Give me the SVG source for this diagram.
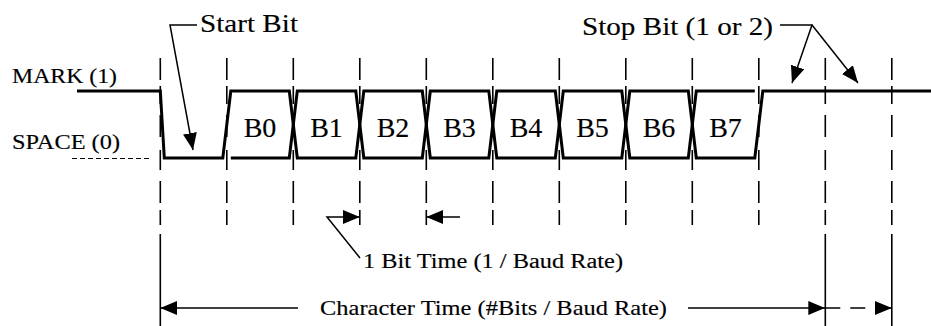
<svg xmlns="http://www.w3.org/2000/svg" width="931" height="326" viewBox="0 0 931 326">
<style>
text{font-family:"Liberation Serif","Times New Roman",serif;fill:#000;stroke:#000;stroke-width:0.15}
.sig{fill:none;stroke:#000;stroke-width:3;stroke-linejoin:miter}
.grid{stroke:#000;stroke-width:1.6;stroke-dasharray:22 6 18 11 22 13 20 11 22 7 15}
.solid{stroke:#000;stroke-width:1.6}
.ln{fill:none;stroke:#000;stroke-width:1.5}
.bit{font-size:28px;text-anchor:middle}
</style>
<defs>
<marker id="ah" markerUnits="userSpaceOnUse" markerWidth="17" markerHeight="14" refX="17" refY="7" orient="auto">
<path d="M0,0 L17,7 L0,14 z" fill="#000"/>
</marker>
</defs>
<rect width="931" height="326" fill="#fff"/>
<g id="grid">
<line class="grid" x1="160.3" y1="58" x2="160.3" y2="225"/>
<line class="grid" x1="226.8" y1="58" x2="226.8" y2="225"/>
<line class="grid" x1="293.3" y1="58" x2="293.3" y2="225"/>
<line class="grid" x1="359.8" y1="58" x2="359.8" y2="225"/>
<line class="grid" x1="426.3" y1="58" x2="426.3" y2="225"/>
<line class="grid" x1="492.8" y1="58" x2="492.8" y2="225"/>
<line class="grid" x1="559.3" y1="58" x2="559.3" y2="225"/>
<line class="grid" x1="625.8" y1="58" x2="625.8" y2="225"/>
<line class="grid" x1="692.3" y1="58" x2="692.3" y2="225"/>
<line class="grid" x1="758.8" y1="58" x2="758.8" y2="225"/>
<line class="grid" x1="825.3" y1="58" x2="825.3" y2="225"/>
<line class="grid" x1="891.8" y1="58" x2="891.8" y2="225"/>
<line class="solid" x1="160.3" y1="234" x2="160.3" y2="326"/>
<line class="solid" x1="825.3" y1="234" x2="825.3" y2="326"/>
<line class="solid" x1="891.8" y1="234" x2="891.8" y2="326"/>
<line x1="72" y1="158.5" x2="150" y2="158.5" stroke="#000" stroke-width="1" stroke-dasharray="5 3"/>
</g>
<g id="signal">
<path class="sig" d="M77,91 H160.3 L164.3,158 H222.8 L230.8,91 H289.3 L297.3,158 H355.8 L363.8,91 H422.3 L430.3,158 H488.8 L496.8,91 H555.3 L563.3,158 H621.8 L629.8,91 H688.3 L696.3,158 H754.8 L762.8,91 H931"/>
<path class="sig" d="M230.8,158 H289.3 L297.3,91 H355.8 L363.8,158 H422.3 L430.3,91 H488.8 L496.8,158 H555.3 L563.3,91 H621.8 L629.8,158 H688.3 L696.3,91 H754.8"/>
</g>
<g id="labels">
<text x="12" y="83" font-size="20" textLength="105" lengthAdjust="spacingAndGlyphs">MARK (1)</text>
<text x="12" y="149" font-size="20" textLength="108" lengthAdjust="spacingAndGlyphs">SPACE (0)</text>
<text x="200" y="32" font-size="25" textLength="98" lengthAdjust="spacingAndGlyphs">Start Bit</text>
<text x="582" y="35" font-size="25" textLength="191" lengthAdjust="spacingAndGlyphs">Stop Bit (1 or 2)</text>
<text x="363" y="268" font-size="20" textLength="260" lengthAdjust="spacingAndGlyphs">1 Bit Time (1 / Baud Rate)</text>
<text x="320" y="315" font-size="22" textLength="347" lengthAdjust="spacingAndGlyphs">Character Time (#Bits / Baud Rate)</text>
</g>
<g id="bits">
<text id="b0" class="bit" x="260" y="137">B0</text>
<text id="b1" class="bit" x="326.5" y="137">B1</text>
<text id="b2" class="bit" x="393" y="137">B2</text>
<text id="b3" class="bit" x="459.5" y="137">B3</text>
<text id="b4" class="bit" x="526" y="137">B4</text>
<text id="b5" class="bit" x="592.5" y="137">B5</text>
<text id="b6" class="bit" x="659" y="137">B6</text>
<text id="b7" class="bit" x="725.5" y="137">B7</text>
</g>
<g id="connectors">
<polyline class="ln" points="197,25 170,25 193,150" marker-end="url(#ah)"/>
<polyline class="ln" points="780,25 812,25 792,83" marker-end="url(#ah)"/>
<line class="ln" x1="812" y1="25" x2="858" y2="83" marker-end="url(#ah)"/>
<polyline class="ln" points="360,258 327,217 359.8,217" marker-end="url(#ah)"/>
<line class="ln" x1="460" y1="217" x2="426.3" y2="217" marker-end="url(#ah)"/>
<line class="ln" x1="298" y1="308" x2="160.3" y2="308" marker-end="url(#ah)"/>
<line class="ln" x1="688" y1="308" x2="825.3" y2="308" marker-end="url(#ah)"/>
<line class="ln" x1="825.3" y1="308" x2="875" y2="308" stroke-dasharray="15 10"/>
<line class="ln" x1="868" y1="308" x2="891.8" y2="308" marker-end="url(#ah)" stroke-dasharray="0 7 17 0"/>
</g>
</svg>
